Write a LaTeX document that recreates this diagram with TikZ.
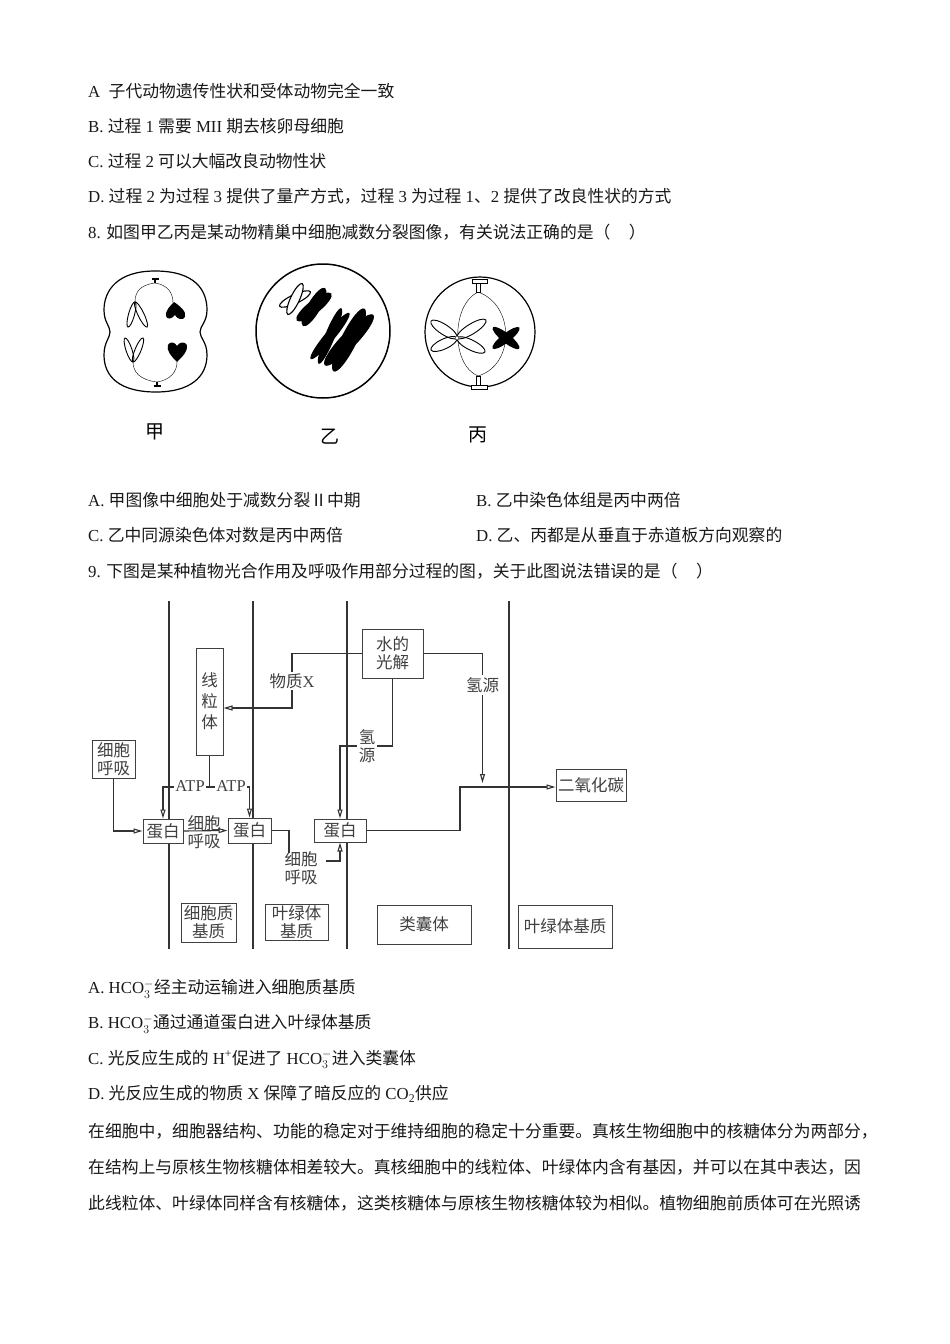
\documentclass[tikz,border=0pt]{standalone}
\usepackage{fontspec}
\setmainfont{Noto Sans CJK SC}
\newfontfamily\enfont{Liberation Serif}
\usetikzlibrary{arrows.meta}

\newcommand{\en}[1]{{\enfont #1}}
\newcommand{\bodyfont}{\fontsize{16.8}{20}\selectfont}
\newcommand{\dgfont}{\fontsize{16.5}{18}\selectfont}
\newcommand{\hco}{\en{HCO}$_{3}^{-}$}

\tikzset{
  txt/.style={anchor=west, inner sep=0pt, font=\bodyfont, text=black!90},
  box/.style={draw=black!75, line width=1pt, fill=white, inner sep=0pt, align=center, font=\dgfont, text=black!75},
  lbl/.style={inner sep=2pt, align=center, font=\dgfont, text=black!75},
  line/.style={line width=1.1pt, draw=black!80},
  flow/.style={line, -{Triangle[open,length=9pt,width=5pt]}},
  membrane/.style={line width=1.8pt, draw=black!80},
  cell/.style={line width=1.2pt},
}

\begin{document}
\begin{tikzpicture}[x=1pt,y=-1pt]
\useasboundingbox (0,0) rectangle (950,1344);
\fill[white] (0,0) rectangle (950,1344);

% question 7 options
\node[txt] (q7a) at (88,91) {\en{A\ \ }子代动物遗传性状和受体动物完全一致};
\node[txt] (q7b) at (88,126) {\en{B. }过程\en{ 1 }需要\en{ MII }期去核卵母细胞};
\node[txt] (q7c) at (88,161) {\en{C. }过程\en{ 2 }可以大幅改良动物性状};
\node[txt] (q7d) at (88,196) {\en{D. }过程\en{ 2 }为过程\en{ 3 }提供了量产方式，过程\en{ 3 }为过程\en{ 1}、\en{2 }提供了改良性状的方式};
\node[txt] (q8) at (88,232) {\en{8. }如图甲乙丙是某动物精巢中细胞减数分裂图像，有关说法正确的是（\hspace{1.1em}）};

% cell jia
\draw[cell] (155,271) .. controls (195,271) and (207,290) .. (207,310) .. controls (207,322) and (200,326) .. (200,332) .. controls (200,338) and (207,342) .. (207,355) .. controls (207,377) and (190,392) .. (156,392) .. controls (120,392) and (104,377) .. (104,355) .. controls (104,342) and (110,338) .. (110,332) .. controls (110,326) and (104,322) .. (104,310) .. controls (104,290) and (118,271) .. (155,271);
\draw[line width=1.3pt] (151.5,279) -- (158.5,279) (155,279) -- (155,283);
\draw[line width=1.3pt] (153.5,386) -- (160.5,386) (157,382) -- (157,386);
\draw (155,283) .. controls (140,285) and (135,292) .. (135,302);
\draw (155,283) .. controls (168,285) and (173,293) .. (173,303);
\draw (157,382) .. controls (140,380) and (133,372) .. (133,362);
\draw (157,382) .. controls (170,380) and (177,372) .. (177,362);
\foreach \cx/\cy/\a/\r in {131.5/314.5/74.4/13, 141/314.5/-64.4/13.9, 129/350/108.4/12.6, 138/350/67.4/13}
  \draw[line width=0.9pt, rotate around={\a:(\cx,\cy)}] (\cx,\cy) ellipse ({\r} and 3);
\fill (174,302) .. controls (180,306) and (187,312) .. (185,317) .. controls (183,321) and (177,319) .. (175,315) .. controls (172,319) and (167,320) .. (166,316) .. controls (165,311) and (170,306) .. (174,302);
\fill (177,362) .. controls (171,356) and (166,350) .. (168,345) .. controls (170,341) and (175,342) .. (177,346) .. controls (179,342) and (185,341) .. (187,345) .. controls (188,351) and (183,356) .. (177,362);

% cell yi
\draw[line width=1.5pt] (323,331) circle (67);
\foreach \a in {25,65}
  \draw[line width=1.1pt, fill=white, rotate around={\a:(295,299)}] (295,299) ellipse (17 and 4.5);
\foreach \a in {38,60}
  \fill[rotate around={\a:(314,307)}] (314,307) ellipse (22 and 6.5);
\foreach \a in {50,68}
  \fill[rotate around={\a:(330,336)}] (330,336) ellipse (30 and 5);
\foreach \a in {46,64}
  \fill[rotate around={\a:(349,340)}] (349,340) ellipse (35 and 8);

% cell bing
\draw[cell] (480,332) circle (55);
\draw (478,292) .. controls (451,305) and (451,365) .. (478,376);
\draw (478,292) .. controls (515,305) and (515,365) .. (478,376);
\draw[fill=white] (472,279) rectangle (487,283);
\draw[fill=white] (476,283) rectangle (480,292);
\draw[fill=white] (476,376) rectangle (480,385);
\draw[fill=white] (471,385) rectangle (487,389);
\foreach \cx/\cy/\a/\r in {444/329.5/-33.2/15.5, 444/344/24.8/14.3, 471.5/329/31.8/17, 471/345/-26.6/15.6}
  \draw[line width=0.9pt, rotate around={\a:(\cx,\cy)}] (\cx,\cy) ellipse ({\r} and 5);
\draw[fill=white] (457,338) circle (2);
\foreach \a in {38,-39}
  \fill[rotate around={\a:(506,338)}] (506,338) ellipse (17 and 4.5);

\node[font=\fontsize{19}{20}\selectfont] (jia) at (155,432) {甲};
\node[font=\fontsize{19}{20}\selectfont] (yi) at (330,437) {乙};
\node[font=\fontsize{19}{20}\selectfont] (bing) at (478,435) {丙};

% question 8 options
\node[txt] (q8a) at (88,500) {\en{A. }甲图像中细胞处于减数分裂Ⅱ中期};
\node[txt] (q8b) at (476,500) {\en{B. }乙中染色体组是丙中两倍};
\node[txt] (q8c) at (88,535) {\en{C. }乙中同源染色体对数是丙中两倍};
\node[txt] (q8d) at (476,535) {\en{D. }乙、丙都是从垂直于赤道板方向观察的};
\node[txt] (q9) at (88,571) {\en{9. }下图是某种植物光合作用及呼吸作用部分过程的图，关于此图说法错误的是（\hspace{1.1em}）};

% membranes
\foreach \mx in {169,253,347,509}
  \draw[membrane] (\mx,601) -- (\mx,949);

% boxes
\node[box, minimum width=27, minimum height=107] (mito) at (209.5,701.5) {线\\[3pt]粒\\[3pt]体};
\node[box, minimum width=43, minimum height=38] (cresp) at (113.5,759) {细胞\\呼吸};
\node[box, minimum width=40, minimum height=24] (prot1) at (163,831) {蛋白};
\node[box, minimum width=43, minimum height=25] (prot2) at (249.5,830.5) {蛋白};
\node[box, minimum width=52, minimum height=23] (prot3) at (340,830.5) {蛋白};
\node[box, minimum width=55, minimum height=39] (cyto) at (208.5,922.5) {细胞质\\基质};
\node[box, minimum width=63, minimum height=36] (stroma2) at (296.5,922) {叶绿体\\基质};
\node[box, minimum width=61, minimum height=49] (water) at (392.5,653.5) {水的\\光解};
\node[box, minimum width=70, minimum height=32] (co2) at (591,785) {二氧化碳};
\node[box, minimum width=94, minimum height=39] (thyl) at (424,924.5) {类囊体};
\node[box, minimum width=94, minimum height=43] (stroma) at (565,926.5) {叶绿体基质};

% labels
\node[lbl] (resp1) at (204,832) {细胞\\呼吸};
\node[lbl] (resp2) at (301,868) {细胞\\呼吸};
\node[lbl] (h1) at (367,746) {氢\\源};
\node[lbl] (h2) at (482.5,685) {氢源};

\coordinate (xturn) at (292,708);
\coordinate (atpj) at (209.5,787);
\coordinate (r2in) at (289,853);
\coordinate (r2out) at (326,861);
\coordinate (h2tip) at (482.5,783);
\coordinate (cturn) at (460,787);

% connectors
\draw[flow] (water.west) -| (xturn) -- (xturn -| mito.east);
\draw[line] (mito.south) -- (atpj);
\draw[flow] (atpj) -| (prot1.north);
\draw[flow] (atpj) -| (prot2.north);
\draw[flow] (cresp.south) |- (prot1.west);
\draw[flow] (prot1.east) -- (prot2.west);
\draw[line] (prot2.east) -| (r2in);
\draw[flow] (r2out) -| (prot3.south);
\draw[line] (water.south) |- (h1.east);
\draw[flow] (h1.west) -| (prot3.north);
\draw[line] (water.east) -| (h2.north);
\draw[flow] (h2.south) -- (h2tip);
\draw[flow] (prot3.east) -| (cturn) -- (co2.west |- cturn);

\node[lbl, fill=white, inner sep=1pt] (matx) at (292,681) {物质\en{X}};
\node[lbl, fill=white, inner sep=1pt, font=\enfont\fontsize{16.5}{18}\selectfont] (atpl) at (190,786) {ATP};
\node[lbl, fill=white, inner sep=1pt, font=\enfont\fontsize{16.5}{18}\selectfont] (atpr) at (231,786) {ATP};

% question 9 options
\node[txt] (q9a) at (88,989) {\en{A. }\hco 经主动运输进入细胞质基质};
\node[txt] (q9b) at (88,1024) {\en{B. }\hco 通过通道蛋白进入叶绿体基质};
\node[txt] (q9c) at (88,1059) {\en{C. }光反应生成的\en{ H\textsuperscript{+}}促进了\en{ }\hco 进入类囊体};
\node[txt] (q9d) at (88,1094) {\en{D. }光反应生成的物质\en{ X }保障了暗反应的\en{ CO\textsubscript{2}}供应};

% passage
\node[txt] (par1) at (88,1131) {在细胞中，细胞器结构、功能的稳定对于维持细胞的稳定十分重要。真核生物细胞中的核糖体分为两部分，};
\node[txt] (par2) at (88,1167) {在结构上与原核生物核糖体相差较大。真核细胞中的线粒体、叶绿体内含有基因，并可以在其中表达，因};
\node[txt] (par3) at (88,1203) {此线粒体、叶绿体同样含有核糖体，这类核糖体与原核生物核糖体较为相似。植物细胞前质体可在光照诱};
\end{tikzpicture}
\end{document}
